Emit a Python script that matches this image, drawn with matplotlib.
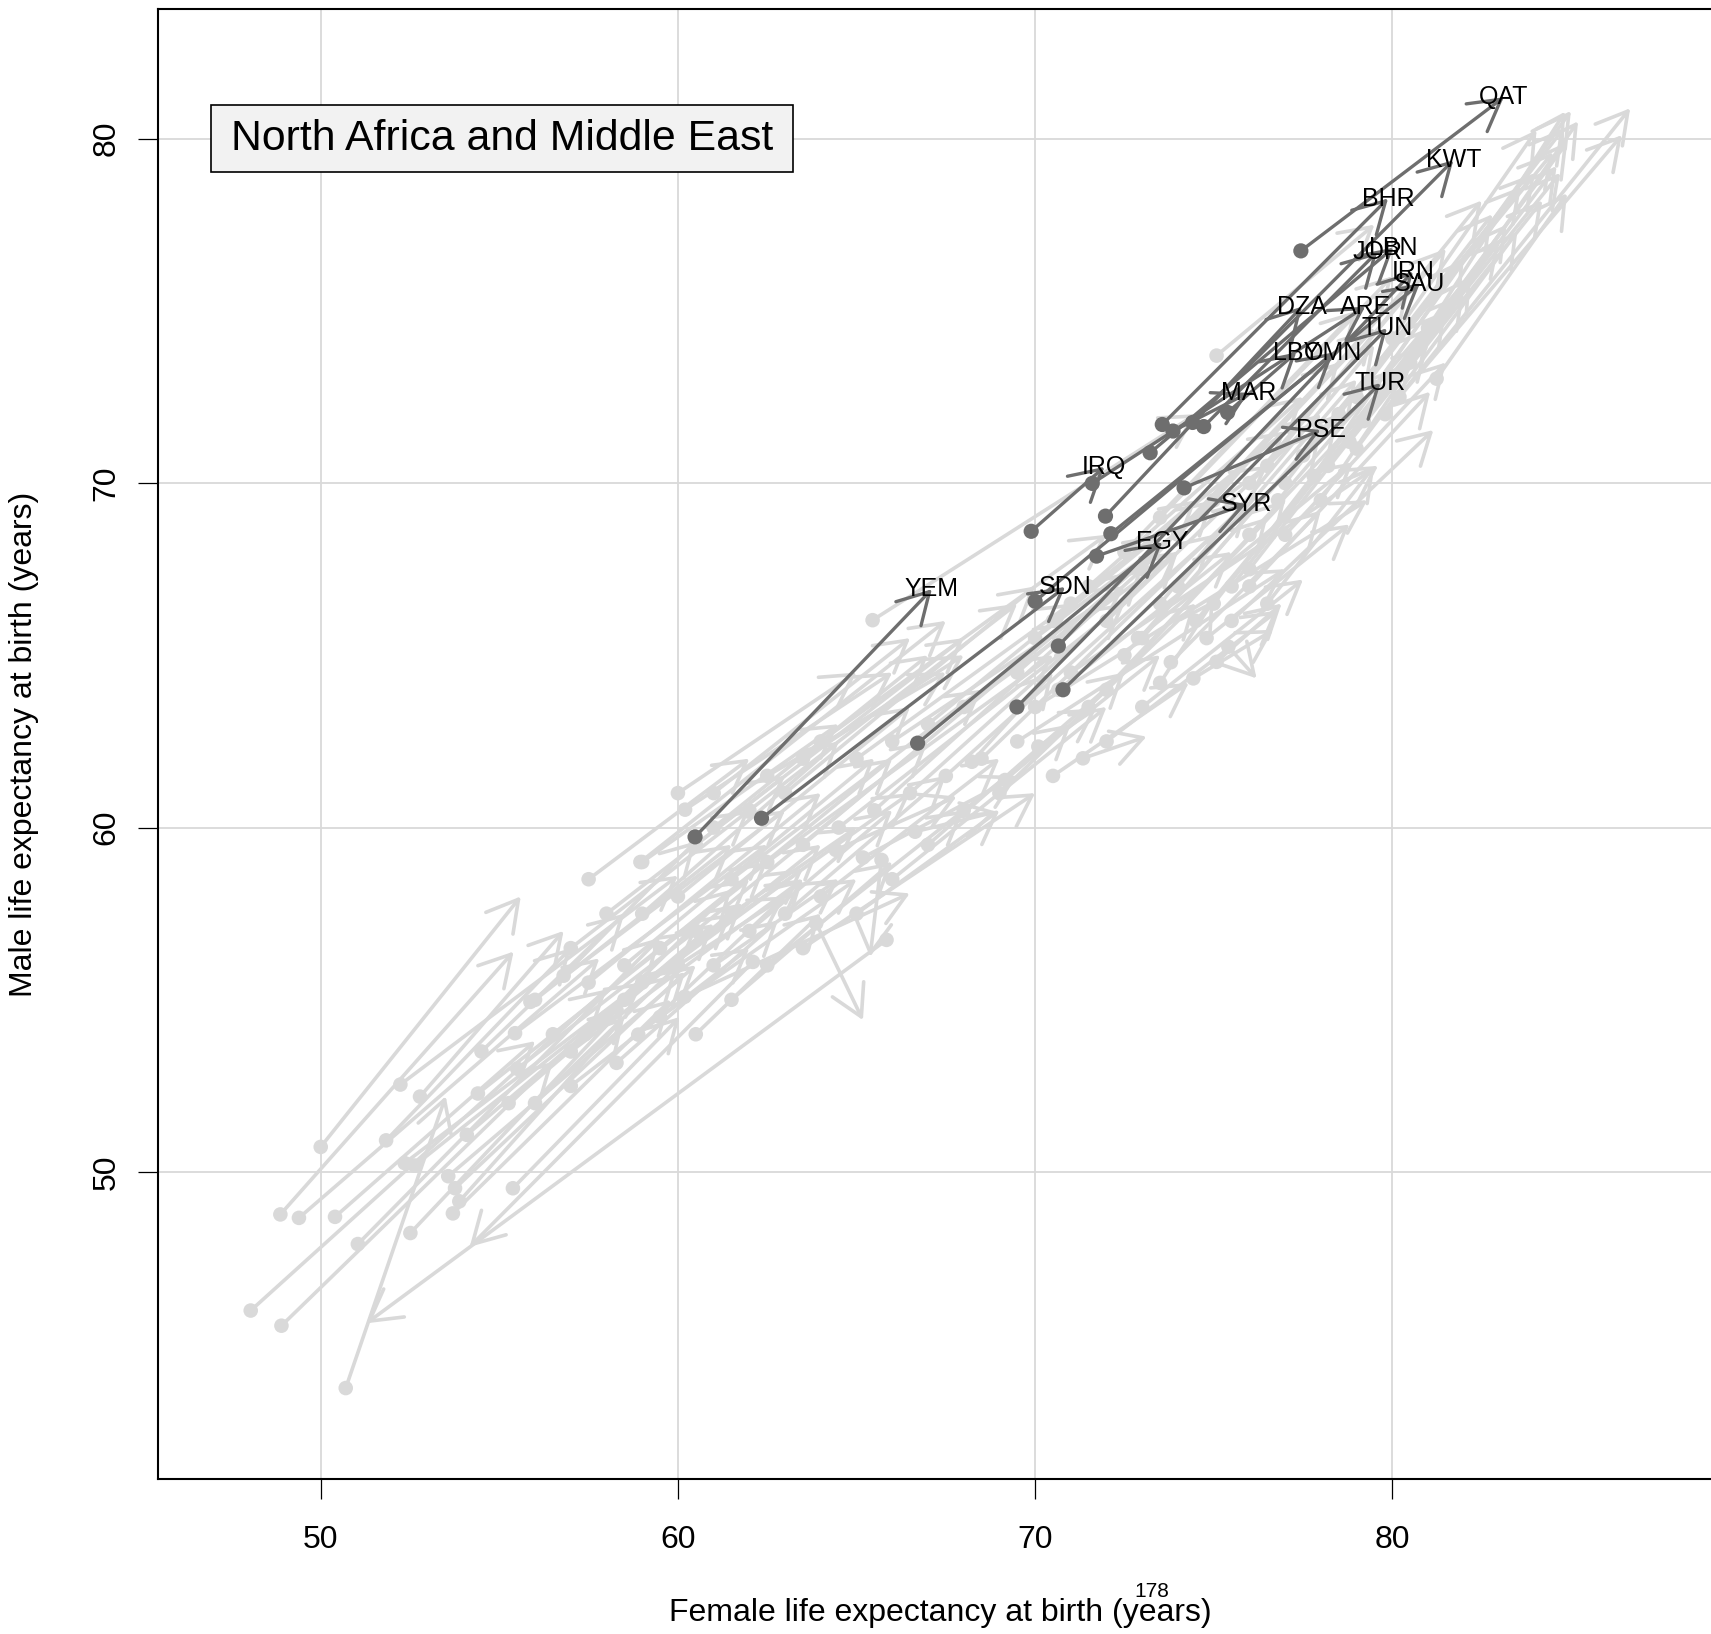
import matplotlib
matplotlib.use("Agg")
import matplotlib.pyplot as plt
from matplotlib.patches import FancyArrowPatch, Rectangle

plt.rcParams['font.family'] = ['Liberation Sans', 'DejaVu Sans']

# highlighted region: start (earlier year) -> end (later year), female / male
region_name = "North Africa and Middle East"
region_codes = ['QAT', 'KWT', 'BHR', 'JOR', 'LBN', 'IRN', 'SAU', 'DZA', 'ARE', 'TUN',
                'LBY', 'OMN', 'MAR', 'TUR', 'PSE', 'IRQ', 'SYR', 'EGY', 'SDN', 'YEM']
region_f0 = [77.44, 74.41, 73.56, 74.72, 73.22, 70.65, 72.12, 71.97, 71.60, 69.49,
             75.39, 70.00, 73.86, 70.78, 74.17, 69.89, 71.72, 66.71, 62.34, 60.48]
region_m0 = [76.74, 71.76, 71.70, 71.64, 70.88, 65.27, 68.53, 69.04, 69.99, 63.50,
             72.05, 66.57, 71.51, 64.00, 69.86, 68.60, 67.88, 62.45, 60.27, 59.73]
region_f1 = [83.12, 81.71, 79.88, 79.58, 80.03, 80.58, 80.77, 77.47, 79.24, 79.85,
             77.31, 78.35, 75.97, 79.67, 77.99, 71.94, 75.91, 73.56, 70.84, 67.11]
region_m1 = [81.20, 79.37, 78.26, 76.71, 76.83, 76.14, 75.79, 75.12, 75.12, 74.49,
             73.79, 73.79, 72.62, 72.90, 71.54, 70.47, 69.39, 68.28, 66.98, 66.92]

# all other countries: (female start, male start, female end, male end)
other_arrows = [
    (48.04, 45.98, 58.0, 55.3), (48.90, 45.54, 56.5, 53.2), (50.70, 43.73, 53.5, 52.2),
    (48.87, 48.77, 55.4, 56.4), (49.39, 48.67, 57.8, 56.2), (50.40, 48.70, 56.0, 53.8),
    (50.00, 50.73, 55.6, 58.0), (51.04, 47.91, 59.5, 56.8), (52.51, 48.23, 58.5, 54.8),
    (51.83, 50.92, 57.0, 56.5), (52.23, 52.54, 60.0, 58.6), (52.78, 52.19, 56.8, 57.0),
    (52.35, 50.26, 59.0, 55.5), (52.63, 50.19, 61.5, 57.5), (53.57, 49.88, 60.5, 56.0),
    (53.76, 49.53, 60.2, 55.8), (53.88, 49.15, 58.5, 54.5), (53.70, 48.80, 59.8, 55.0),
    (54.09, 51.08, 61.0, 57.2), (54.40, 52.28, 62.0, 58.5), (55.26, 52.00, 61.8, 57.8),
    (55.38, 49.53, 60.05, 54.5), (55.44, 54.03, 62.5, 59.5), (55.87, 54.94, 63.0, 60.5),
    (58.28, 53.17, 62.8, 57.3), (58.89, 53.99, 63.5, 58.5), (57.40, 54.00, 61.5, 58.2),
    (62.10, 56.10, 54.17, 47.83), (65.84, 56.74, 51.28, 45.61), (63.87, 57.22, 65.18, 54.41),
    (65.70, 59.06, 65.38, 56.25), (60.19, 55.09, 66.49, 58.09), (66.64, 59.88, 68.92, 60.46),
    (64.42, 59.35, 67.80, 60.90),
    (78.0, 71.5, 84.0, 79.0), (78.5, 72.0, 84.5, 79.6), (79.0, 72.5, 84.8, 80.3),
    (79.5, 72.8, 85.0, 80.8), (80.0, 73.0, 84.9, 79.9), (80.5, 73.5, 85.2, 80.5),
    (81.24, 73.03, 84.89, 78.41), (77.5, 70.8, 83.6, 78.6), (78.2, 70.5, 83.2, 77.5),
    (77.0, 70.0, 82.8, 77.8), (79.8, 72.0, 86.66, 80.88), (80.2, 72.5, 86.43, 80.1),
    (76.8, 69.5, 83.0, 77.0), (78.8, 71.2, 84.2, 78.2), (79.2, 71.8, 84.6, 79.2),
    (76.5, 70.5, 82.5, 78.2), (80.8, 74.0, 84.7, 79.0), (77.8, 70.2, 82.0, 76.5),
    (79.0, 71.0, 83.5, 77.3), (78.0, 69.5, 82.2, 76.0), (80.0, 74.2, 84.04, 80.25),
    (81.0, 74.5, 84.84, 80.78),
    (74.5, 66.0, 80.5, 73.5), (75.0, 66.5, 81.0, 74.5), (75.5, 67.0, 81.5, 75.0),
    (76.0, 67.5, 82.0, 75.5), (74.0, 67.0, 79.0, 73.0), (73.5, 66.5, 79.5, 74.0),
    (73.0, 65.5, 78.0, 71.5), (72.5, 65.0, 78.5, 72.0), (76.0, 68.5, 81.0, 74.0),
    (77.0, 68.5, 81.5, 73.5), (76.5, 66.5, 79.5, 70.5), (74.43, 64.33, 76.67, 65.74),
    (75.08, 64.81, 76.9, 66.5), (75.41, 65.25, 76.20, 64.33), (74.8, 65.5, 78.8, 68.8),
    (73.8, 64.8, 78.0, 69.2), (72.88, 65.5, 78.9, 70.6), (73.5, 64.2, 75.0, 66.6),
    (75.08, 73.70, 79.5, 77.5), (72.0, 64.0, 77.0, 69.5), (71.5, 63.5, 76.5, 69.0),
    (71.34, 62.01, 73.12, 62.64), (70.09, 62.35, 71.72, 63.46), (69.16, 61.38, 71.0, 63.0),
    (68.23, 61.91, 70.5, 64.5), (70.65, 64.0, 75.5, 68.0), (71.0, 66.5, 77.0, 71.5),
    (70.0, 65.5, 76.5, 70.5), (69.5, 64.5, 75.0, 69.5), (72.0, 66.0, 78.0, 72.0),
    (73.0, 67.5, 78.5, 73.5), (71.5, 67.0, 77.5, 72.5), (70.5, 66.0, 74.5, 69.5),
    (74.0, 68.5, 79.5, 74.5), (72.5, 68.0, 79.0, 75.0), (75.0, 69.5, 80.5, 75.8),
    (76.0, 70.0, 81.5, 76.8), (73.5, 69.0, 80.0, 76.0), (75.5, 66.0, 81.15, 71.54),
    (76.0, 67.0, 81.06, 72.65),
    (65.45, 66.02, 74.5, 72.0), (64.0, 62.5, 72.0, 68.5), (63.0, 61.0, 70.0, 67.0),
    (62.0, 60.5, 69.5, 66.5), (61.0, 60.0, 67.0, 65.0), (60.5, 59.5, 68.0, 65.5),
    (60.20, 60.52, 66.0, 64.5), (59.0, 59.0, 64.5, 63.0), (58.95, 59.0, 67.5, 66.0),
    (60.0, 58.0, 66.5, 63.5), (61.5, 58.5, 68.5, 64.0), (62.5, 59.0, 70.5, 65.0),
    (63.5, 59.5, 71.0, 66.0), (64.5, 60.0, 72.5, 66.5), (65.5, 60.5, 73.0, 67.5),
    (66.5, 61.0, 74.0, 68.0), (67.5, 61.5, 75.0, 68.5), (68.5, 62.0, 76.0, 69.5),
    (66.0, 62.5, 72.5, 67.0), (67.0, 63.0, 73.5, 68.5), (68.0, 63.5, 74.0, 68.0),
    (65.0, 62.0, 71.0, 66.5), (62.5, 61.5, 67.5, 64.5), (63.5, 62.0, 68.0, 65.0),
    (65.18, 59.13, 69.5, 61.5), (66.0, 58.5, 72.0, 63.5), (67.0, 59.5, 72.5, 64.5),
    (68.0, 60.5, 73.5, 65.0), (69.0, 61.0, 74.5, 66.5), (64.0, 58.0, 69.0, 62.0),
    (65.0, 57.5, 69.0, 60.5), (61.0, 56.0, 64.5, 58.5), (62.0, 57.0, 66.0, 60.5),
    (63.0, 57.5, 67.5, 61.5), (60.5, 57.0, 67.0, 62.5), (59.5, 56.5, 66.0, 62.0),
    (58.5, 56.0, 65.5, 62.0), (57.5, 55.5, 64.0, 61.0), (59.0, 57.5, 64.5, 62.5),
    (58.0, 57.5, 63.0, 61.5), (57.0, 56.5, 62.0, 60.5), (56.0, 55.0, 61.5, 59.5),
    (56.5, 54.0, 62.5, 59.0), (57.0, 53.5, 63.5, 58.5), (55.5, 53.0, 60.5, 57.0),
    (56.8, 55.7, 60.5, 59.6), (54.5, 53.5, 58.5, 57.5), (60.0, 56.0, 63.0, 58.0),
    (61.5, 57.5, 65.0, 60.0), (59.5, 54.5, 65.0, 58.5), (58.5, 55.0, 63.5, 58.8),
    (57.5, 58.5, 62.0, 62.0), (60.0, 61.0, 65.0, 64.5), (61.0, 61.0, 66.5, 65.5),
    (70.0, 63.5, 79.3, 69.5), (71.0, 64.5, 79.6, 70.5), (69.5, 62.5, 77.0, 67.5),
    (72.0, 62.5, 76.8, 66.3), (73.0, 63.5, 77.5, 67.2), (70.5, 61.5, 74.3, 64.2),
    (58.0, 54.5, 64.0, 59.5), (59.0, 55.5, 66.5, 61.0), (61.5, 55.0, 66.0, 59.0),
    (62.5, 56.0, 68.0, 60.5), (57.0, 52.5, 62.0, 56.5), (56.0, 52.0, 60.0, 56.0),
    (63.5, 56.5, 70.0, 61.0), (60.5, 54.0, 64.0, 57.5),
]

W, H = 1711, 1634
fig = plt.figure(figsize=(W / 100, H / 100), dpi=100)
ax = fig.add_axes([158.2 / W, 1 - 1479 / H, (1722 - 158.2) / W, (1479 - 8.7) / H])
ax.set_xlim(45.45, 89.23)
ax.set_ylim(41.09, 83.77)

ax.set_axisbelow(True)
ax.grid(True, color='#D9D9D9', lw=1.3)
ax.set_xticks([50, 60, 70, 80])
ax.set_yticks([50, 60, 70, 80])
ax.spines['right'].set_visible(False)
for s in ['left', 'bottom', 'top']:
    ax.spines[s].set_linewidth(1.5)
ax.tick_params(length=14.4, width=0.9, labelsize=23, colors='black')
ax.tick_params(axis='x', pad=19)
ax.tick_params(axis='y', pad=11.8)
for lab in ax.get_yticklabels():
    lab.set_rotation(90)
    lab.set_va('center')

head = '->,head_length=0.44,head_width=0.25'


def draw_arrow(f0, m0, f1, m1, color, lw, z):
    ax.add_patch(FancyArrowPatch((f0, m0), (f1, m1), arrowstyle=head, mutation_scale=50,
                                 shrinkA=0, shrinkB=0, color=color, lw=lw,
                                 capstyle='round', joinstyle='round', zorder=z))


grey = '#D9D9D9'
for f0, m0, f1, m1 in other_arrows:
    draw_arrow(f0, m0, f1, m1, grey, 2.6, 2)
ax.scatter([a[0] for a in other_arrows], [a[1] for a in other_arrows],
           s=110, color=grey, edgecolors='none', zorder=2)

dark = '#6E6E6E'
for f0, m0, f1, m1 in zip(region_f0, region_m0, region_f1, region_m1):
    draw_arrow(f0, m0, f1, m1, dark, 2.4, 3)
ax.scatter(region_f0, region_m0, s=120, color=dark, edgecolors='none', zorder=3)

for code, f1, m1 in zip(region_codes, region_f1, region_m1):
    ax.text(f1, m1, code, fontsize=18, ha='center', va='center', zorder=4)

# region box
ax.add_patch(Rectangle((210.6 / W, 1 - 172.4 / H), 582.7 / W, 67.6 / H,
                       transform=fig.transFigure, facecolor='#F2F2F2',
                       edgecolor='black', lw=1.2, zorder=5))
fig.text(501.9 / W, 1 - 138.6 / H, region_name, fontsize=30.8,
         ha='center', va='center', zorder=6)

fig.text(940 / W, 1 - 1613 / H, 'Female life expectancy at birth (years)',
         fontsize=23, ha='center', va='center')
fig.text(24 / W, 1 - 744 / H, 'Male life expectancy at birth (years)',
         fontsize=23, ha='center', va='center', rotation=90)
fig.text(1152 / W, 1 - 1591.7 / H, '178', fontsize=15, ha='center', va='center')

fig.savefig('out.png', dpi=100)
